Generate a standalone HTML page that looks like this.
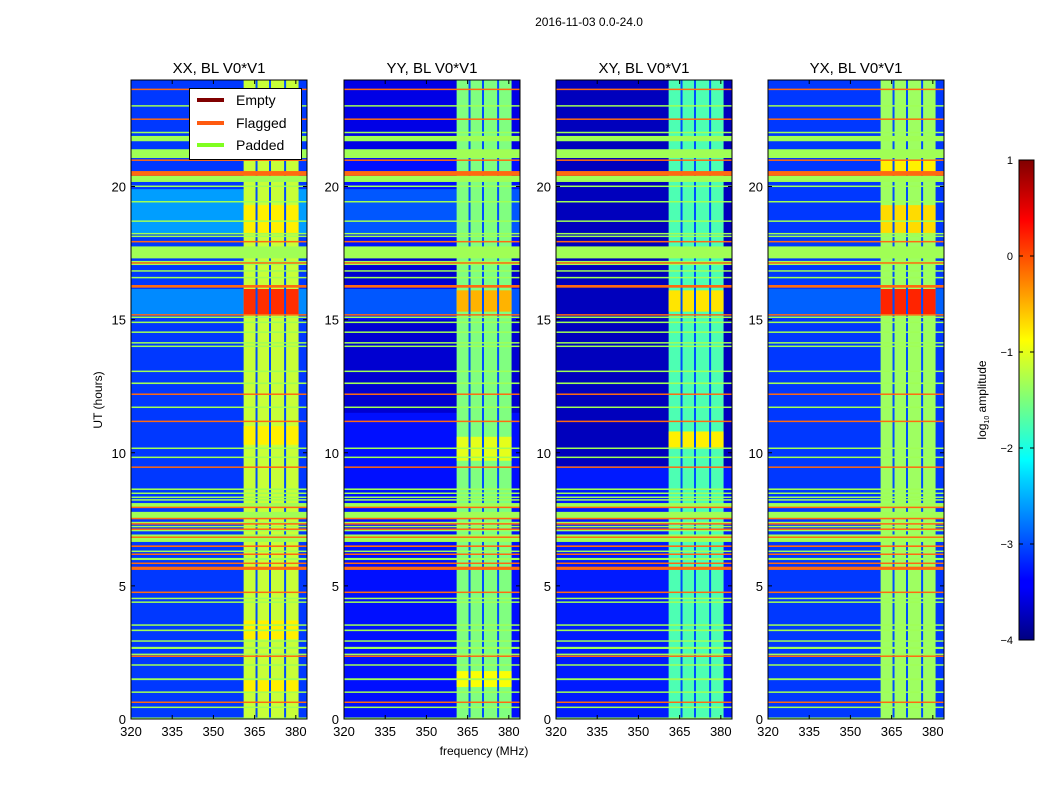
<!DOCTYPE html>
<html><head><meta charset="utf-8">
<style>
html,body{margin:0;padding:0;background:#fff;}
svg{display:block;font-family:"Liberation Sans",sans-serif;}
</style></head>
<body>
<svg id="fig" width="1050" height="800" viewBox="0 0 1050 800" xmlns="http://www.w3.org/2000/svg">
<defs>
<linearGradient id="jet" x1="0" y1="1" x2="0" y2="0">
<stop offset="0" stop-color="#000080"/>
<stop offset="0.11" stop-color="#0000ff"/>
<stop offset="0.125" stop-color="#0000ff"/>
<stop offset="0.34" stop-color="#00d8ff"/>
<stop offset="0.375" stop-color="#00ffff"/>
<stop offset="0.5" stop-color="#7dff7a"/>
<stop offset="0.625" stop-color="#ffff00"/>
<stop offset="0.875" stop-color="#ff0000"/>
<stop offset="1" stop-color="#800000"/>
</linearGradient>
</defs>
<text x="589" y="26" font-size="12" text-anchor="middle">2016-11-03 0.0-24.0</text>
<g id="panels"></g>
<text transform="translate(102,400) rotate(-90)" font-size="12" text-anchor="middle">UT (hours)</text>
<text x="484" y="755" font-size="12" text-anchor="middle">frequency (MHz)</text>
<g>
<rect x="1019" y="160" width="15" height="480" fill="url(#jet)" stroke="#000" stroke-width="1"/>
<g id="cbticks"></g>
<text transform="translate(986,400) rotate(-90)" font-size="12" text-anchor="middle">log<tspan font-size="7" dy="3">10</tspan><tspan dy="-3"> amplitude</tspan></text>
</g>
<g>
<rect x="189.5" y="88.5" width="112" height="71" fill="#fff" stroke="#000" stroke-width="1"/>
<line x1="197" y1="100" x2="224" y2="100" stroke="#800000" stroke-width="4"/>
<text x="236" y="105" font-size="14">Empty</text>
<line x1="197" y1="123" x2="224" y2="123" stroke="#ff5a10" stroke-width="4"/>
<text x="236" y="128" font-size="14">Flagged</text>
<line x1="197" y1="145" x2="224" y2="145" stroke="#80ff20" stroke-width="4"/>
<text x="236" y="150" font-size="14">Padded</text>
</g>
</svg>
<script>
// ---- data ----
const panelTitles = ["XX, BL V0*V1","YY, BL V0*V1","XY, BL V0*V1","YX, BL V0*V1"];
const xTicks = [320,335,350,365,380];
const yTicks = [0,5,10,15,20];
const cbTicks = [1,0,-1,-2,-3,-4];
const cbTickLabels = ["1","0","\u22121","\u22122","\u22123","\u22124"];
const backgroundLevel = [-3.1,-3.3,-3.25,-3.1];
const bandLevel = [-1.15,-1.5,-1.75,-1.35];
const bandRange = [361,381];
const notchFreqs = [365.7,370.6,376.1];
const notchLevel = -3.0;
// regions: [panel, tStart, tEnd, log amplitude]
const bgRegions = [
 [0,18.2,19.9,-2.6],[0,15.2,16.15,-2.7],
 [1,18.2,19.9,-2.95],[1,15.2,16.15,-2.95],[1,11.5,15.0,-3.6],[1,16.2,17.3,-3.6],[1,21.1,24,-3.5],
 [2,9.5,24,-3.7],
 [3,15.2,16.15,-2.9]
];
// hot spots inside band: [panel, tStart, tEnd, log amplitude]
const hotSpots = [
 [0,15.2,16.15,0.15],[0,18.2,19.3,-0.8],[0,10.3,11.0,-0.8],[0,3.0,3.7,-0.8],[0,1.0,1.5,-0.8],
 [1,15.3,16.1,-0.5],[1,9.7,10.6,-1.0],[1,1.2,1.8,-0.9],
 [2,15.3,16.1,-0.75],[2,10.2,10.8,-0.8],
 [3,15.2,16.15,0.2],[3,18.2,19.3,-0.7],[3,20.5,21.0,-0.8]
];
// flag rows: [time (hours), thickness (hours)]
const paddedRows = [[23.0,.05],[22.0,.05],[21.7,.2],[21.07,.33],[20.17,.23],[19.98,.05],[19.4,.04],[18.67,.04],[18.2,.04],[18.1,.04],[17.3,.45],[17.15,.04],[17.05,.04],[16.8,.04],[16.55,.04],[15.06,.05],[14.87,.04],[14.5,.04],[14.1,.04],[13.97,.04],[13.03,.04],[12.58,.06],[11.68,.04],[10.14,.04],[9.8,.04],[8.6,.06],[8.45,.05],[8.3,.04],[8.2,.04],[7.96,.15],[7.55,.23],[7.35,.05],[7.2,.05],[7.05,.05],[6.85,.08],[6.65,.2],[6.27,.05],[5.97,.08],[4.5,.04],[4.36,.04],[3.5,.04],[3.3,.06],[2.9,.04],[2.63,.08],[2.4,.05],[2.0,.04],[1.46,.07],[0.98,.04],[0.41,.05],[0.0,.05]];
const flaggedRows = [[23.62,.04],[22.5,.04],[20.96,.05],[20.4,.18],[17.9,.04],[17.1,.03],[16.2,.1],[15.15,.05],[12.17,.04],[11.15,.04],[9.43,.04],[7.92,.04],[7.5,.04],[7.3,.04],[7.1,.04],[6.8,.04],[6.46,.06],[6.16,.05],[5.82,.05],[5.6,.12],[4.73,.04],[2.33,.04],[0.6,.04]];

// ---- layout ----
const panelLeft = [131,344,556,768];
const PW = 176, PT = 80, PH = 639;
const F0 = 320, F1 = 384.07, T0 = 0, T1 = 24;
const NS = "http://www.w3.org/2000/svg";
function xs(p,f){return panelLeft[p] + (f-F0)/(F1-F0)*PW;}
function ys(t){return PT + PH - (t-T0)/(T1-T0)*PH;}
function jet(v){
  let x=(v+4)/5; x=Math.max(0,Math.min(1,x));
  const r=Math.max(0,Math.min(1,1.5-Math.abs(4*x-3)));
  const g=Math.max(0,Math.min(1,1.5-Math.abs(4*x-2)));
  const b=Math.max(0,Math.min(1,1.5-Math.abs(4*x-1)));
  return "rgb("+Math.round(r*255)+","+Math.round(g*255)+","+Math.round(b*255)+")";
}
function mk(tag,attrs,parent){const e=document.createElementNS(NS,tag);for(const k in attrs)e.setAttribute(k,attrs[k]);parent.appendChild(e);return e;}
const root=document.getElementById("panels");
for(let p=0;p<4;p++){
  const g=mk("g",{},root);
  
  
  const L=panelLeft[p];
  const bg=mk("rect",{x:L,y:PT,width:PW,height:PH,fill:jet(backgroundLevel[p])},g);
  
  
  for(const r of bgRegions){ if(r[0]!==p) continue;
    const e=mk("rect",{x:L,y:ys(r[2]),width:PW,height:ys(r[1])-ys(r[2]),fill:jet(r[3])},g);
    
    
  }
  const band=mk("rect",{x:xs(p,bandRange[0]),y:PT,width:xs(p,bandRange[1])-xs(p,bandRange[0]),height:PH,fill:jet(bandLevel[p])},g);
  
  
  for(const h of hotSpots){ if(h[0]!==p) continue;
    const e=mk("rect",{x:xs(p,bandRange[0]),y:ys(h[2]),width:xs(p,bandRange[1])-xs(p,bandRange[0]),height:ys(h[1])-ys(h[2]),fill:jet(h[3])},g);
    
    
  }
  for(const f of notchFreqs){
    const e=mk("rect",{x:xs(p,f)-1,y:PT,width:2,height:PH,fill:jet(notchLevel)},g);
    
    
  }
  for(const r of paddedRows){
    const h=Math.max(1.5,r[1]/(T1-T0)*PH);
    const e=mk("rect",{x:L,y:ys(r[0])-h,width:PW,height:h,fill:"#a0ff55"},g);
    
    
  }
  for(const r of flaggedRows){
    const h=Math.max(1.5,r[1]/(T1-T0)*PH);
    const e=mk("rect",{x:L,y:ys(r[0])-h,width:PW,height:h,fill:"#ff6a10"},g);
    
    
  }
  const fr=mk("rect",{x:L,y:PT,width:PW,height:PH,fill:"none",stroke:"#000","stroke-width":1},g);
  
  
  const tt=mk("text",{x:L+PW/2,y:PT-7,"font-size":15,"text-anchor":"middle"},g);
  tt.textContent=panelTitles[p];
  
  
  for(const f of xTicks){
    const x=xs(p,f);
    mk("line",{x1:x,y1:PT+PH,x2:x,y2:PT+PH-4,stroke:"#000"},g);
    mk("line",{x1:x,y1:PT,x2:x,y2:PT+4,stroke:"#000"},g);
    const t=mk("text",{x:x,y:PT+PH+17,"font-size":13,"text-anchor":"middle"},g);
    t.textContent=f;
    
    
  }
  for(const v of yTicks){
    const y=ys(v);
    mk("line",{x1:L,y1:y,x2:L+4,y2:y,stroke:"#000"},g);
    mk("line",{x1:L+PW,y1:y,x2:L+PW-4,y2:y,stroke:"#000"},g);
    const t=mk("text",{x:L-5,y:y+5,"font-size":13,"text-anchor":"end"},g);
    t.textContent=v;
    
    
  }
}
const cb=document.getElementById("cbticks");
for(let i=0;i<cbTicks.length;i++){
  const y=160+(1-cbTicks[i])/5*480;
  mk("line",{x1:1019,y1:y,x2:1023,y2:y,stroke:"#000"},cb);
  mk("line",{x1:1034,y1:y,x2:1030,y2:y,stroke:"#000"},cb);
  const t=mk("text",{x:1013,y:y+4,"font-size":11,"text-anchor":"end"},cb);
  t.textContent=cbTickLabels[i];
  
  
}
</script>
</body></html>
